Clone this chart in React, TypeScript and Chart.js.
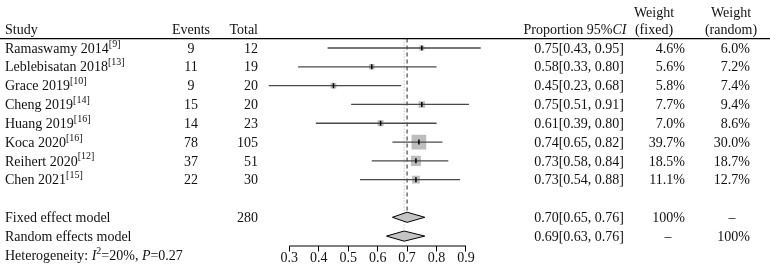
import React, { useEffect, useRef } from 'react';
import { Chart, registerables } from 'chart.js';
Chart.register(...registerables);

// ---- data ----
const studies = ['Ramaswamy 2014', 'Leblebisatan 2018', 'Grace 2019', 'Cheng 2019', 'Huang 2019', 'Koca 2020', 'Reihert 2020', 'Chen 2021'];
const refs = ['9', '13', '10', '14', '16', '16', '12', '15'];
const events = [9, 11, 9, 15, 14, 78, 37, 22];
const totals = [12, 19, 20, 20, 23, 105, 51, 30];
const proportion = [0.75, 0.58, 0.45, 0.75, 0.61, 0.74, 0.73, 0.73];
const ciLower = [0.43, 0.33, 0.23, 0.51, 0.39, 0.65, 0.58, 0.54];
const ciUpper = [0.95, 0.80, 0.68, 0.91, 0.80, 0.82, 0.84, 0.88];
const weightFixed = [4.6, 5.6, 5.8, 7.7, 7.0, 39.7, 18.5, 11.1];
const weightRandom = [6.0, 7.2, 7.4, 9.4, 8.6, 30.0, 18.7, 12.7];

const modelNames = ['Fixed effect model', 'Random effects model'];
const modelTotal = ['280', ''];
const modelEst = [0.70, 0.69];
const modelLower = [0.65, 0.63];
const modelUpper = [0.76, 0.76];
const modelWeightFixed = ['100%', '–'];
const modelWeightRandom = ['–', '100%'];

const xTicks = [0.3, 0.4, 0.5, 0.6, 0.7, 0.8, 0.9];
const heterogeneityI2 = '20%';
const heterogeneityP = '0.27';

// ---- layout ----
const W = 770;
const H = 270;
const FONT = '"Liberation Serif", "Times New Roman", serif';
const FS = 14;
const FS_SUP = 10;
const axisStartPx = 289.3; // pixel of 0.3
const pxPerUnit = 294.5;
const xMin = 0.2;
const xMax = 1.0;
const padLeft = axisStartPx - (0.3 - xMin) * pxPerUnit;
const padRight = W - (axisStartPx + (xMax - 0.3) * pxPerUnit);
const modelRow0 = studies.length + 1;
const hetRow = modelRow0 + 2;

type Seg = { t: string; it?: boolean; sup?: boolean };

function drawRich(ctx: CanvasRenderingContext2D, segs: Seg[], x: number, y: number, align: 'left' | 'right' | 'center') {
  const fontFor = (s: Seg) => `${s.it ? 'italic ' : ''}${s.sup ? FS_SUP : FS}px ${FONT}`;
  let total = 0;
  const widths = segs.map((s) => {
    ctx.font = fontFor(s);
    const w = ctx.measureText(s.t).width;
    total += w;
    return w;
  });
  let cx = align === 'left' ? x : align === 'right' ? x - total : x - total / 2;
  segs.forEach((s, i) => {
    ctx.font = fontFor(s);
    ctx.textAlign = 'left';
    ctx.textBaseline = 'middle';
    ctx.fillText(s.t, cx, s.sup ? y - 5 : y);
    cx += widths[i];
  });
}

const tablePlugin = {
  id: 'forestTable',
  afterDraw(chart: any) {
    const ctx: CanvasRenderingContext2D = chart.ctx;
    const xs = chart.scales.x;
    const ys = chart.scales.y;
    const ry = (r: number) => ys.getPixelForValue(r) + 1;
    ctx.save();
    ctx.fillStyle = '#111';

    // header
    const hY = ry(-1);
    const hY2 = ry(-1.9);
    drawRich(ctx, [{ t: 'Study' }], 5, hY, 'left');
    drawRich(ctx, [{ t: 'Events' }], 191, hY, 'center');
    drawRich(ctx, [{ t: 'Total' }], 258, hY, 'right');
    drawRich(ctx, [{ t: 'Proportion 95%' }, { t: 'CI', it: true }], 575, hY, 'center');
    drawRich(ctx, [{ t: 'Weight' }], 654, hY2, 'center');
    drawRich(ctx, [{ t: '(fixed)' }], 654, hY, 'center');
    drawRich(ctx, [{ t: 'Weight' }], 731, hY2, 'center');
    drawRich(ctx, [{ t: '(random)' }], 731, hY, 'center');

    // header rule
    ctx.strokeStyle = '#000';
    ctx.lineWidth = 1.3;
    ctx.beginPath();
    const lineY = ys.getPixelForValue(-0.5);
    ctx.moveTo(0, lineY);
    ctx.lineTo(W, lineY);
    ctx.stroke();

    // studies
    studies.forEach((name, i) => {
      const y = ry(i);
      drawRich(ctx, [{ t: name }, { t: `[${refs[i]}]`, sup: true }], 5, y, 'left');
      drawRich(ctx, [{ t: String(events[i]) }], 191, y, 'center');
      drawRich(ctx, [{ t: String(totals[i]) }], 258, y, 'right');
      drawRich(ctx, [{ t: `${proportion[i].toFixed(2)}[${ciLower[i].toFixed(2)}, ${ciUpper[i].toFixed(2)}]` }], 624, y, 'right');
      drawRich(ctx, [{ t: `${weightFixed[i].toFixed(1)}%` }], 685, y, 'right');
      drawRich(ctx, [{ t: `${weightRandom[i].toFixed(1)}%` }], 750, y, 'right');
    });

    // models
    modelNames.forEach((name, m) => {
      const y = ry(modelRow0 + m);
      drawRich(ctx, [{ t: name }], 5, y, 'left');
      if (modelTotal[m]) drawRich(ctx, [{ t: modelTotal[m] }], 258, y, 'right');
      drawRich(ctx, [{ t: `${modelEst[m].toFixed(2)}[${modelLower[m].toFixed(2)}, ${modelUpper[m].toFixed(2)}]` }], 624, y, 'right');
      const wf = modelWeightFixed[m];
      const wr = modelWeightRandom[m];
      if (wf === '–') drawRich(ctx, [{ t: wf }], 668, y, 'center');
      else drawRich(ctx, [{ t: wf }], 685, y, 'right');
      if (wr === '–') drawRich(ctx, [{ t: wr }], 732, y, 'center');
      else drawRich(ctx, [{ t: wr }], 750, y, 'right');
    });

    // heterogeneity
    drawRich(
      ctx,
      [
        { t: 'Heterogeneity: ' },
        { t: 'I', it: true },
        { t: '2', sup: true },
        { t: `=${heterogeneityI2}, ` },
        { t: 'P', it: true },
        { t: `=${heterogeneityP}` },
      ],
      5,
      ry(hetRow),
      'left'
    );

    // axis line between first and last tick
    const ay = chart.chartArea.bottom + 0.5;
    ctx.strokeStyle = '#000';
    ctx.lineWidth = 1;
    ctx.beginPath();
    ctx.moveTo(xs.getPixelForValue(xTicks[0]), ay);
    ctx.lineTo(xs.getPixelForValue(xTicks[xTicks.length - 1]), ay);
    ctx.stroke();
    ctx.restore();
  },
};

export default function App() {
  const ref = useRef<HTMLCanvasElement | null>(null);
  useEffect(() => {
    document.body.style.margin = '0';
    const canvas = ref.current;
    if (!canvas) return;

    const datasets: any[] = [];
    // reference lines (fixed dashed, random dotted)
    datasets.push({
      type: 'scatter',
      showLine: true,
      data: [{ x: modelEst[0], y: -0.5 }, { x: modelEst[0], y: modelRow0 - 0.3 }],
      borderColor: '#777',
      borderWidth: 1.6,
      borderDash: [4, 3],
      pointRadius: 0,
      order: 6,
    });
    datasets.push({
      type: 'scatter',
      showLine: true,
      data: [{ x: modelEst[1], y: -0.5 }, { x: modelEst[1], y: modelRow0 + 1 - 0.3 }],
      borderColor: '#aaa',
      borderWidth: 1,
      borderDash: [1, 2],
      pointRadius: 0,
      order: 6,
    });
    // squares
    datasets.push({
      type: 'scatter',
      data: proportion.map((p, i) => ({ x: p, y: i })),
      pointStyle: 'rect',
      pointRadius: weightFixed.map((w) => 1.65 * Math.sqrt(w)),
      backgroundColor: '#bdbdbd',
      borderWidth: 0,
      order: 5,
    });
    // CI lines
    studies.forEach((_, i) => {
      datasets.push({
        type: 'scatter',
        showLine: true,
        data: [{ x: ciLower[i], y: i }, { x: ciUpper[i], y: i }],
        borderColor: '#4a4a4a',
        borderWidth: 1.3,
        pointRadius: 0,
        order: 4,
      });
    });
    // estimate ticks
    datasets.push({
      type: 'scatter',
      data: proportion.map((p, i) => ({ x: p, y: i })),
      pointStyle: 'line',
      rotation: 90,
      pointRadius: 2.5,
      borderColor: '#000',
      borderWidth: 1.5,
      order: 2,
    });
    // diamonds
    modelNames.forEach((_, m) => {
      const r = modelRow0 + m;
      datasets.push({
        type: 'scatter',
        showLine: true,
        fill: 'shape',
        data: [
          { x: modelLower[m], y: r },
          { x: modelEst[m], y: r - 0.27 },
          { x: modelUpper[m], y: r },
          { x: modelEst[m], y: r + 0.27 },
          { x: modelLower[m], y: r },
        ],
        backgroundColor: '#c4c4c4',
        borderColor: '#000',
        borderWidth: 1,
        pointRadius: 0,
        tension: 0,
        order: 1,
      });
    });

    const chart = new Chart(canvas, {
      type: 'scatter',
      data: { datasets },
      options: {
        animation: false,
        responsive: false,
        devicePixelRatio: 1,
        layout: { padding: { left: padLeft, right: padRight, top: 9, bottom: 4.5 } },
        plugins: { legend: { display: false }, tooltip: { enabled: false } },
        scales: {
          x: {
            type: 'linear',
            min: xMin,
            max: xMax,
            afterBuildTicks: (s: any) => {
              s.ticks = xTicks.map((v) => ({ value: v }));
            },
            ticks: {
              callback: (v: any) => Number(v).toFixed(1),
              font: { family: FONT, size: FS, lineHeight: 1 },
              color: '#111',
              padding: 0,
              maxRotation: 0,
              autoSkip: false,
            },
            grid: { drawOnChartArea: false, drawTicks: true, tickLength: 6, color: '#000', lineWidth: 1 },
            border: { display: false },
          },
          y: {
            type: 'linear',
            min: -2,
            max: 10.5,
            reverse: true,
            display: false,
          },
        },
      },
      plugins: [tablePlugin],
    });
    return () => chart.destroy();
  }, []);

  return (
    <div style={{ width: W, height: H, background: '#fff' }}>
      <canvas ref={ref} width={W} height={H} style={{ display: 'block' }} />
    </div>
  );
}
